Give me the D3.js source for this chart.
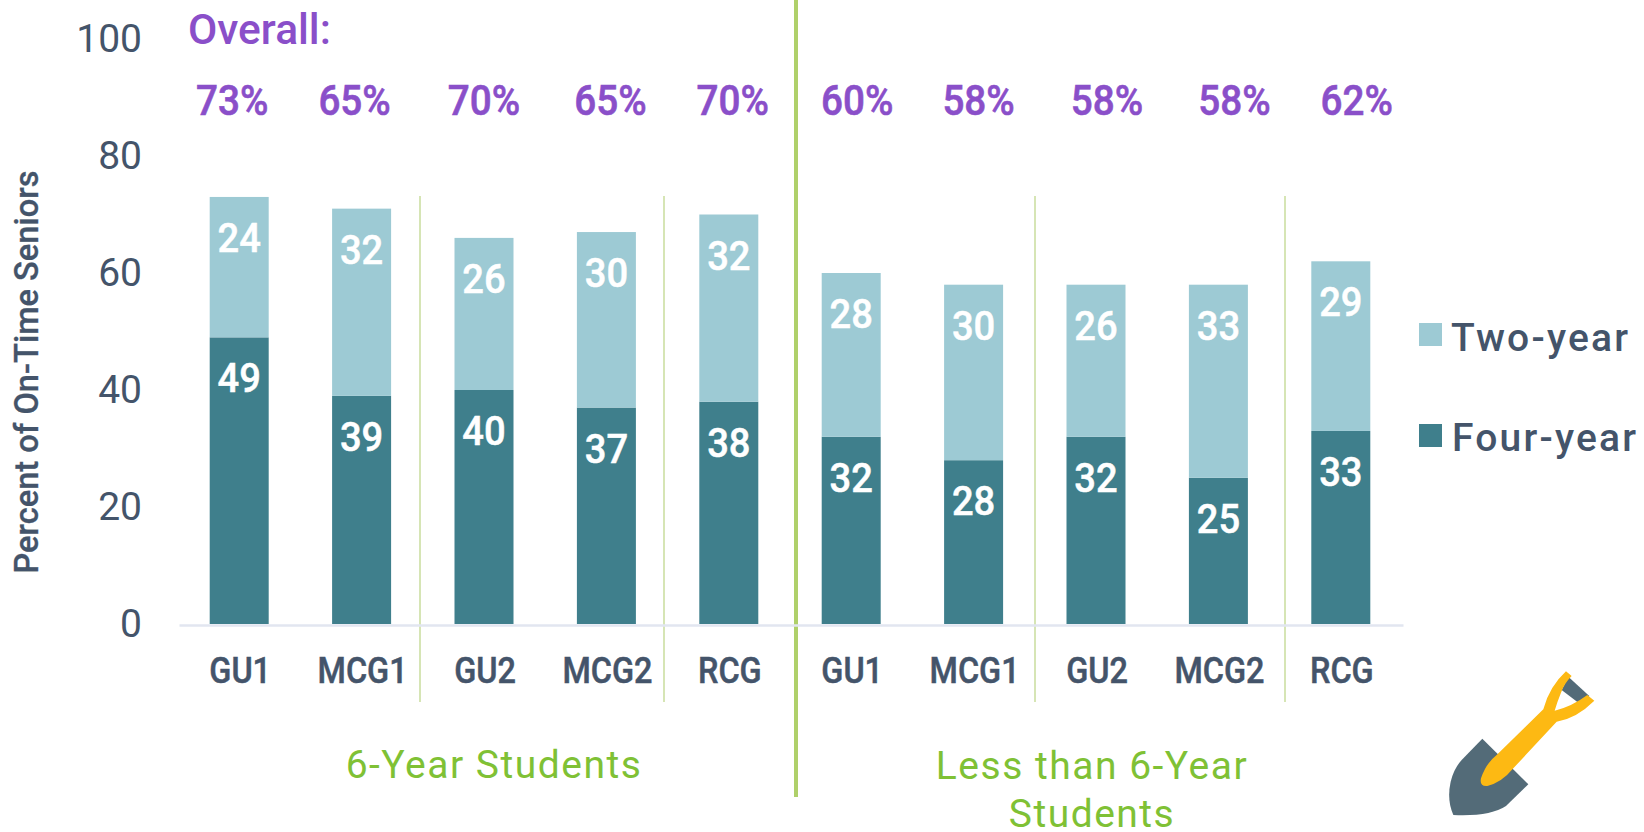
<!DOCTYPE html>
<html><head><meta charset="utf-8">
<script src="https://cdn.jsdelivr.net/npm/d3@7"></script>
<style>html,body{margin:0;padding:0;background:#fff}svg{display:block}text{font-family:Roboto,sans-serif}</style>
</head><body><svg id="c" width="1644" height="832"></svg>
<script>
const categories=["GU1","MCG1","GU2","MCG2","RCG","GU1","MCG1","GU2","MCG2","RCG"];
const fourYear=[49,39,40,37,38,32,28,32,25,33];
const twoYear=[24,32,26,30,32,28,30,26,33,29];
const overall=["73%","65%","70%","65%","70%","60%","58%","58%","58%","62%"];
const overallShift=[-7,-7,0,4,4,6,5,11,16,16];
const yTicks=[0,20,40,60,80,100];
const separators=[420,664,1035,1285];
const C={text:"#44546a",dark:"#3f7f8c",light:"#9dcad4",purple:"#8a4fc9",green:"#7fc135",sep:"#c9dc9c",mid:"#afd06a",axis:"#e2e6f0"};

const svg=d3.select("#c");
const ids=categories.map((_,i)=>i);
const x=d3.scaleBand().domain(ids).range([178,1402]).paddingInner(.518).paddingOuter(.259);
const y=d3.scaleLinear().domain([0,100]).range([624,39]);

// narrow the glyphs a little, for the condensed look of the original typeface
function squeeze(sel,f){sel.each(function(){const n=this;n.setAttribute("textLength",n.getComputedTextLength()*f);n.setAttribute("lengthAdjust","spacingAndGlyphs");});return sel;}

// separators
svg.selectAll(".sep").data(separators).join("line").attr("x1",d=>d).attr("x2",d=>d).attr("y1",196).attr("y2",702).attr("stroke",C.sep).attr("stroke-width",1.5);
svg.append("line").attr("x1",796).attr("x2",796).attr("y1",0).attr("y2",797).attr("stroke",C.mid).attr("stroke-width",4);

// stacked bars
const stack=categories.map((_,i)=>({i,f:fourYear[i],t:twoYear[i]}));
svg.selectAll(".b4").data(stack).join("rect").attr("x",d=>x(d.i)).attr("width",x.bandwidth()).attr("y",d=>y(d.f)).attr("height",d=>y(0)-y(d.f)).attr("fill",C.dark);
svg.selectAll(".b2").data(stack).join("rect").attr("x",d=>x(d.i)).attr("width",x.bandwidth()).attr("y",d=>y(d.f+d.t)).attr("height",d=>y(d.f)-y(d.f+d.t)).attr("fill",C.light);
// bar labels
const lab=(sel,fn,tx)=>squeeze(sel.attr("x",d=>x(d.i)+x.bandwidth()/2).attr("y",d=>y(fn(d))+55).attr("text-anchor","middle").attr("fill","#fff").attr("stroke","#fff").attr("stroke-width",.5).attr("font-size",41).attr("font-weight",500).text(tx),.93);
lab(svg.selectAll(".l4").data(stack).join("text"),d=>d.f,d=>d.f);
lab(svg.selectAll(".l2").data(stack).join("text"),d=>d.f+d.t,d=>d.t);

// axes
const ay=svg.append("g").attr("transform","translate(142,0)").call(d3.axisLeft(y).tickValues(yTicks).tickSize(0).tickPadding(0));
ay.select(".domain").remove();
ay.selectAll("text").attr("font-size",39).attr("font-family","Roboto").attr("fill",C.text);
const ax=svg.append("g").attr("transform","translate(1,625)").call(d3.axisBottom(x).tickSize(0).tickFormat(i=>categories[i]));
ax.select(".domain").attr("stroke",C.axis).attr("stroke-width",2.5);
ax.selectAll("text").attr("y",58).attr("dy",0).attr("font-size",36).attr("font-weight",500).attr("font-family","Roboto").attr("fill",C.text).attr("stroke",C.text).attr("stroke-width",.5);
squeeze(ax.selectAll("text"),.9);

// y title
svg.append("text").attr("transform","translate(38,372) rotate(-90)").attr("text-anchor","middle").attr("font-size",32.6).attr("font-weight",500).attr("fill",C.text).attr("stroke",C.text).attr("stroke-width",.3).text("Percent of On-Time Seniors");

// overall
svg.append("text").attr("x",188).attr("y",44).attr("font-size",42.5).attr("font-weight",500).attr("fill",C.purple).text("Overall:");
squeeze(svg.selectAll(".ov").data(overall).join("text").attr("x",(d,i)=>x(i)+x.bandwidth()/2+overallShift[i]).attr("y",115).attr("text-anchor","middle").attr("font-size",42).attr("font-weight",500).attr("fill",C.purple).attr("stroke",C.purple).attr("stroke-width",.6).text(d=>d),.92);

// legend
const legend=[["Two-year",C.light,323,351,1451],["Four-year",C.dark,424,451,1452]];
legend.forEach(([t,c,yy,by,tx])=>{
 svg.append("rect").attr("x",1419).attr("y",yy).attr("width",23).attr("height",23).attr("fill",c);
 svg.append("text").attr("x",tx).attr("y",by).attr("font-size",39).attr("font-weight",500).attr("letter-spacing",2.2).attr("fill",C.text).text(t);
});

// group titles
const gt=[["6-Year Students",494,778],["Less than 6-Year",1092,779],["Students",1092,827]];
gt.forEach(([t,a,b])=>svg.append("text").attr("x",a).attr("y",b).attr("text-anchor","middle").attr("font-size",39).attr("letter-spacing",1.5).attr("fill",C.green).text(t));

// shovel icon
const sh=svg.append("g").attr("transform","translate(1380,640) scale(.3333)");
sh.append("path").attr("fill","#536b78").attr("d","M307,296 L445,433 L378,498 Q330,530 220,525 Q200,480 212,425 Q222,385 245,360 Z");
sh.append("path").attr("fill","#536b78").attr("d","M565,110 L628,168 L600,192 L545,150 Z");
sh.append("path").attr("fill","#fdb913").attr("d","M558,94 L575,108 Q553,130 543,158 Q532,185 524,212 Q575,200 622,165 L643,182 Q590,235 530,245 L400,385 Q365,428 322,438 Q298,440 303,415 Q318,370 350,345 L490,208 Q508,140 558,94 Z");
</script></body></html>
